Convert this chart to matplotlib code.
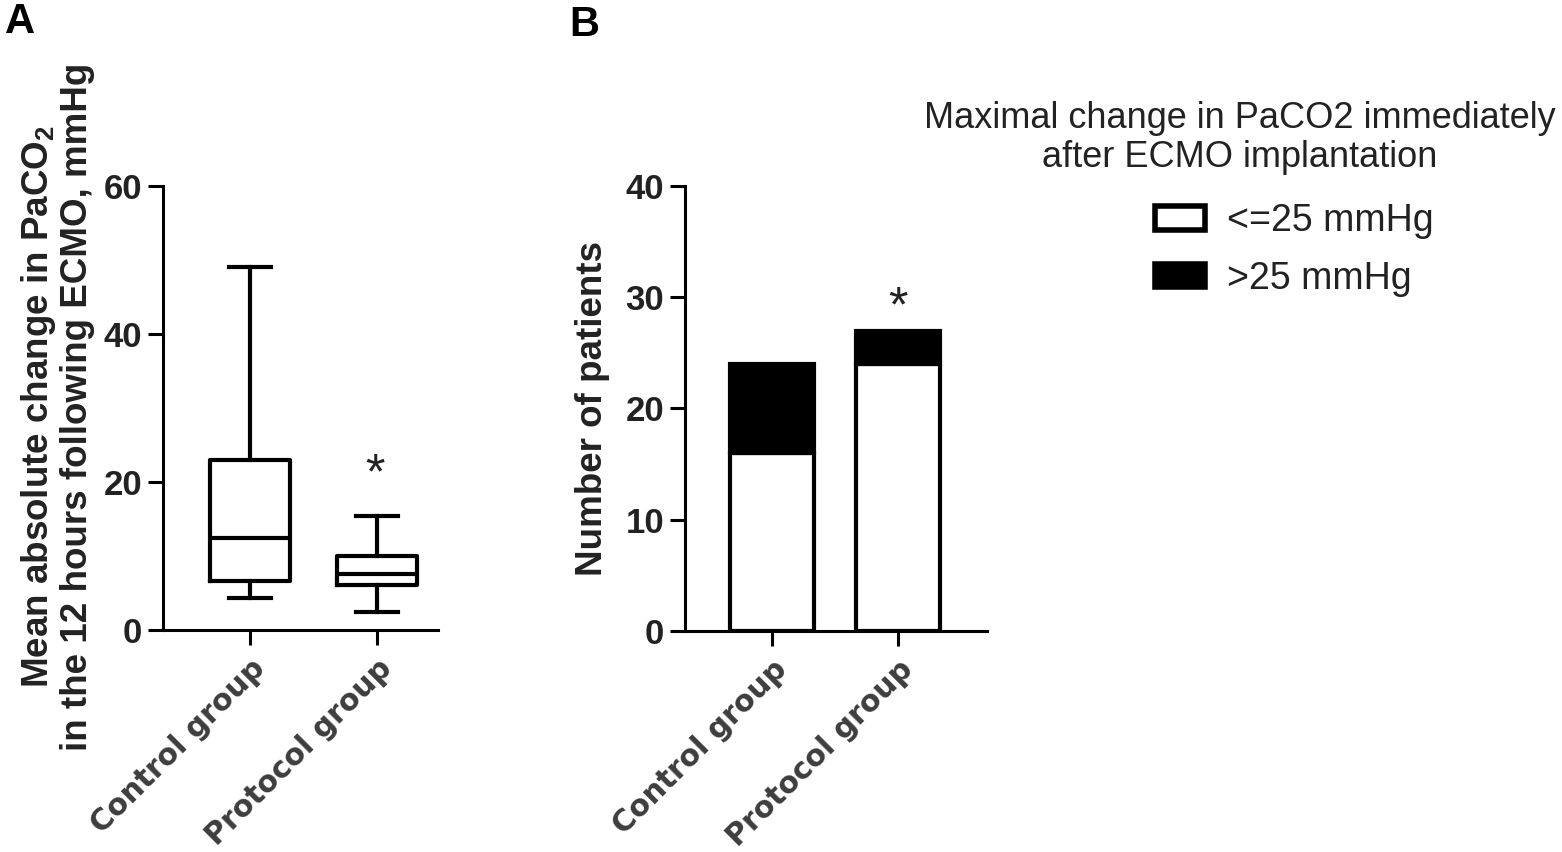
import matplotlib
matplotlib.use("Agg")
import matplotlib.pyplot as plt
from matplotlib.patches import Patch

# Panel A: box plot summary (mmHg)
groups = ["Control group", "Protocol group"]
whisker_low = [4.3, 2.4]
q1 = [6.6, 6.1]
median = [12.4, 7.6]
q3 = [23.0, 10.0]
whisker_high = [49.0, 15.4]

# Panel B: number of patients per category
le25 = [16, 24]
gt25 = [8, 3]
legend_labels = ["<=25 mmHg", ">25 mmHg"]

plt.rcParams["font.family"] = ["Liberation Sans", "DejaVu Sans"]

fig = plt.figure(figsize=(15.62, 8.52), dpi=100)

lw = 3.0
label_kw = dict(fontsize=26.5, fontweight="bold", color="#222222", rotation=90,
                ha="center", va="center")
tick_kw = dict(fontsize=21.5, fontweight="heavy", color="#3d3d3d", family="DejaVu Sans")


def style_axis(ax):
    for s in ["top", "right"]:
        ax.spines[s].set_visible(False)
    for s in ["left", "bottom"]:
        ax.spines[s].set_linewidth(2.2)
    ax.tick_params(axis="both", length=11, width=2.2, direction="out", pad=4)
    ax.tick_params(axis="x", pad=6)
    for t in ax.get_yticklabels():
        t.set_fontsize(25)
        t.set_fontweight("bold")
        t.set_color("#222222")


# ---- Panel A ----
axA = fig.add_axes([163 / 1562, 222 / 852, 275 / 1562, 444 / 852])
stats = []
for i in range(len(groups)):
    stats.append(dict(whislo=whisker_low[i], q1=q1[i], med=median[i],
                      q3=q3[i], whishi=whisker_high[i], fliers=[]))
line = dict(color="black", linewidth=lw)
axA.bxp(stats, positions=[1, 2], widths=0.63, capwidths=0.33,
        boxprops=line, whiskerprops=line, capprops=line, medianprops=line,
        showfliers=False, manage_ticks=False)
axA.set_xlim(0.315, 2.48)
axA.set_ylim(0, 60)
axA.set_yticks([0, 20, 40, 60])
axA.set_xticks([1, 2])
axA.set_xticklabels(groups, rotation=45, ha="right", rotation_mode="anchor", **tick_kw)
style_axis(axA)
axA.text(1.98, 20.9, "*", ha="center", va="center", fontsize=36, color="#222222")
fig.text(57 / 1562, 1 - 407 / 852,
         "Mean absolute change in PaCO$_\\mathregular{2}$\nin the 12 hours following ECMO, mmHg",
         linespacing=1.1, **label_kw)

# ---- Panel B ----
axB = fig.add_axes([685 / 1562, 221 / 852, 302 / 1562, 445 / 852])
x = [0, 1]
axB.bar(x, le25, width=0.66, color="white", edgecolor="black", linewidth=lw, zorder=2)
axB.bar(x, gt25, bottom=le25, width=0.66, color="black", edgecolor="black", linewidth=lw, zorder=2)
axB.set_xlim(-0.69, 1.706)
axB.set_ylim(0, 40)
axB.set_yticks([0, 10, 20, 30, 40])
axB.set_xticks(x)
axB.set_xticklabels(groups, rotation=45, ha="right", rotation_mode="anchor", **tick_kw)
style_axis(axB)
axB.text(1.0, 29.0, "*", ha="center", va="center", fontsize=36, color="#222222")
fig.text(592 / 1562, 1 - 408 / 852, "Number of patients", **label_kw)

# legend
fig.text(1240 / 1562, 1 - 138 / 852,
         "Maximal change in PaCO2 immediately\nafter ECMO implantation",
         ha="center", va="center", fontsize=26, color="#222222", linespacing=1.15)
handles = [Patch(facecolor="white", edgecolor="black", linewidth=lw + 1),
           Patch(facecolor="black", edgecolor="black", linewidth=lw + 1)]
fig.legend(handles, legend_labels, loc="upper left",
           bbox_to_anchor=(1155 / 1562, 1 - 203 / 852), frameon=False,
           fontsize=27, handlelength=1.33, handleheight=0.6, handletextpad=0.6,
           labelspacing=0.58, borderpad=0, borderaxespad=0,
           labelcolor="#222222")

# panel letters
fig.text(5 / 1562, 1 - 22 / 852, "A", fontsize=30, fontweight="bold", va="center")
fig.text(569 / 1562, 1 - 25 / 852, "B", fontsize=30, fontweight="bold", va="center")

fig.savefig("out.png", dpi=100)
